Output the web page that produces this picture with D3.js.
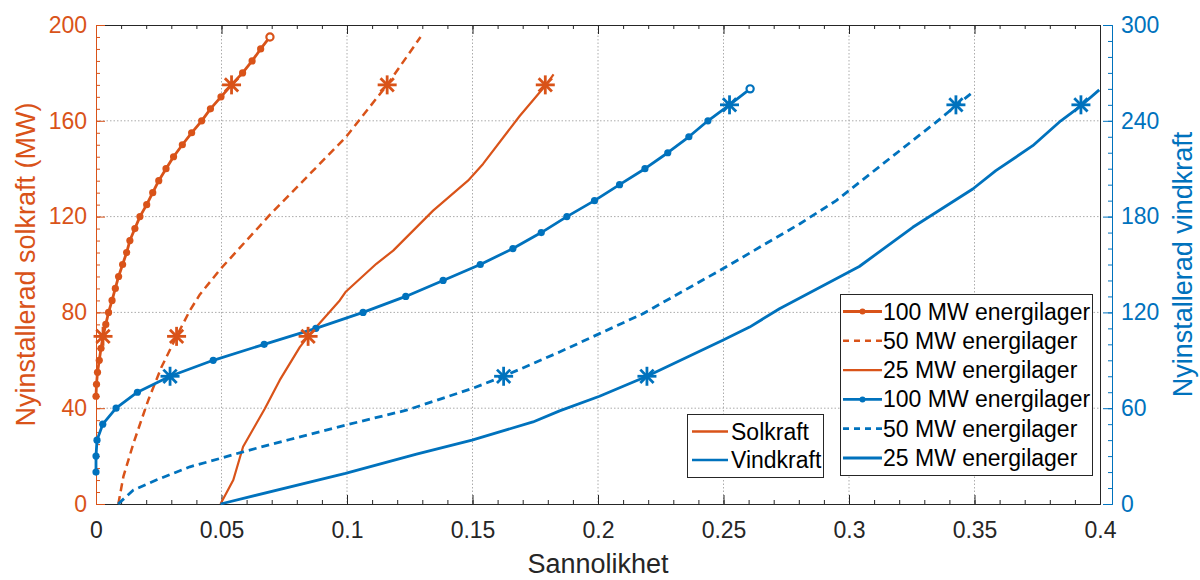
<!DOCTYPE html>
<html>
<head>
<meta charset="utf-8">
<script src="https://cdn.jsdelivr.net/npm/d3@7"></script>
<style>
    body { margin: 0; background: #fff; }
    svg { display: block; font-family: "Liberation Sans", Arial, Helvetica, sans-serif; }
    .grid line { stroke: #acacac; stroke-width: 1; stroke-dasharray: 1.5,2; }
</style>
</head>
<body>
<svg id="chart" width="1200" height="580"></svg>
<script>
// Solkraft (left axis, MW) against Sannolikhet
const solar100P = [0, 0.0002, 0.0006, 0.0013, 0.002, 0.0028, 0.0039, 0.005, 0.0064, 0.0077, 0.009, 0.0106, 0.0122, 0.0135, 0.0155, 0.0175, 0.0202, 0.0226, 0.025, 0.0279, 0.0309, 0.0344, 0.0381, 0.0421, 0.0456, 0.0498, 0.054, 0.0584, 0.0622, 0.0656, 0.0693];
const solar100MW = [45, 50, 55, 60, 65, 70, 75, 80, 85, 90, 95, 100, 105, 110, 115, 120, 125, 130, 135, 140, 145, 150, 155, 160, 165, 170, 175, 180, 185, 190, 195];
const solar50P = [0.0089, 0.0109, 0.0149, 0.0208, 0.0261, 0.0321, 0.0374, 0.0414, 0.0495, 0.0695, 0.0994, 0.116, 0.1293];
const solar50MW = [0, 11.4, 25.3, 43.3, 57.2, 70, 80.8, 87.5, 98, 121, 153, 175, 195];
const solar25P = [0.0496, 0.0547, 0.0586, 0.0673, 0.0732, 0.0812, 0.0845, 0.0971, 0.0994, 0.1117, 0.1184, 0.1343, 0.1482, 0.1542, 0.1688, 0.179, 0.1823];
const solar25MW = [0, 10, 23.9, 39.9, 51.7, 65.5, 70, 85, 88.5, 100.3, 105.8, 122.5, 135, 142, 162, 174.6, 179.4];

// Vindkraft (right axis)
const wind100P = [0, 0, 0.0004, 0.0027, 0.008, 0.0165, 0.0295, 0.0467, 0.067, 0.0876, 0.1064, 0.1234, 0.1383, 0.1531, 0.1661, 0.1774, 0.1876, 0.1986, 0.2086, 0.2187, 0.2278, 0.2362, 0.2438, 0.2524, 0.2606];
const wind100MW = [20, 30, 40, 50, 60, 70, 80, 90, 100, 110, 120, 130, 140, 150, 160, 170, 180, 190, 200, 210, 220, 230, 240, 250, 260];
const wind50P = [0.0088, 0.0149, 0.024, 0.0374, 0.0494, 0.0586, 0.0772, 0.0994, 0.1237, 0.1498, 0.1624, 0.1847, 0.2006, 0.2179, 0.2497, 0.2803, 0.2949, 0.3134, 0.3346, 0.3426, 0.3486];
const wind50MW = [0, 8.75, 15, 23.3, 28.5, 32.7, 40.4, 49.4, 58.75, 72.3, 80, 95.2, 106.7, 119.2, 147.3, 175.4, 190, 212.9, 239, 249.4, 257];
const wind25P = [0.0496, 0.0994, 0.1277, 0.1498, 0.1741, 0.1847, 0.2006, 0.2195, 0.2497, 0.2604, 0.2723, 0.3041, 0.3254, 0.3493, 0.3585, 0.3732, 0.3844, 0.3924, 0.3997];
const wind25MW = [0, 19.2, 31.25, 40, 51.4, 58.3, 67.5, 80, 102.5, 110.8, 122.3, 148.75, 173.3, 197.3, 208.75, 224.4, 240, 249.4, 259.4];

// asterisk markers (100, 50, 25 MW storage, two per curve)
const solarStarP = [0.0028, 0.054, 0.0321, 0.116, 0.0845, 0.179];
const solarStarMW = [70, 175, 70, 175, 70, 175];
const windStarP = [0.0295, 0.2524, 0.1624, 0.3426, 0.2195, 0.3924];
const windStarMW = [80, 250, 80, 250, 80, 250];

// ticks
const xTicks = [0, 0.05, 0.1, 0.15, 0.2, 0.25, 0.3, 0.35, 0.4];
const xTickLabels = ["0", "0.05", "0.1", "0.15", "0.2", "0.25", "0.3", "0.35", "0.4"];
const leftTicks = [0, 40, 80, 120, 160, 200];
const rightTicks = [0, 60, 120, 180, 240, 300];

const legendLabels = ["100 MW energilager", "50 MW energilager", "25 MW energilager"];
const typeLabels = ["Solkraft", "Vindkraft"];

const ORANGE = "#D95319", BLUE = "#0072BD", INK = "#262626";

const svg = d3.select("#chart");
const mLeft = 96, mRight = 1100, mTop = 25, mBottom = 504;

const x = d3.scaleLinear().domain([0, 0.4]).range([mLeft, mRight]);
const yL = d3.scaleLinear().domain([0, 200]).range([mBottom, mTop]);
const yR = d3.scaleLinear().domain([0, 300]).range([mBottom, mTop]);

///////////////////////////////////////////////////////////////////////////
// Grid
///////////////////////////////////////////////////////////////////////////
let grid = svg.append("g").attr("class", "grid");
grid.selectAll("line.v")
    .data(xTicks.slice(1, -1))
    .enter().append("line")
        .attr("x1", d => x(d)).attr("x2", d => x(d))
        .attr("y1", mTop).attr("y2", mBottom);
grid.selectAll("line.h")
    .data(leftTicks.slice(1, -1))
    .enter().append("line")
        .attr("x1", mLeft).attr("x2", mRight)
        .attr("y1", d => yL(d)).attr("y2", d => yL(d));

///////////////////////////////////////////////////////////////////////////
// Axes
///////////////////////////////////////////////////////////////////////////
function styleAxis(g, color, fontSize) {
    g.selectAll("path.domain").attr("stroke", color).attr("stroke-width", 1);
    g.selectAll(".tick line").attr("stroke", color);
    g.selectAll(".tick text").attr("fill", color).style("font-size", fontSize + "px");
}

const xMinor = d3.range(0, 41).map(i => i / 100);
const lMinor = d3.range(0, 41).map(i => i * 5);
const rMinor = d3.range(0, 31).map(i => i * 10);

// minor ticks first, then major ticks with labels
svg.append("g").attr("transform", `translate(0,${mBottom})`)
    .call(d3.axisTop(x).tickValues(xMinor).tickSize(4).tickFormat(""))
    .call(g => styleAxis(g, INK, 22));
svg.append("g").attr("transform", `translate(0,${mBottom})`)
    .call(d3.axisTop(x).tickValues(xTicks).tickSize(9).tickFormat((d, i) => xTickLabels[i]))
    .call(g => styleAxis(g, INK, 23))
    .call(g => g.selectAll(".tick text").attr("y", 34).attr("dy", 0));
svg.append("g").attr("transform", `translate(0,${mTop})`)
    .call(d3.axisBottom(x).tickValues(xMinor).tickSize(4).tickFormat(""))
    .call(g => styleAxis(g, INK, 22));
svg.append("g").attr("transform", `translate(0,${mTop})`)
    .call(d3.axisBottom(x).tickValues(xTicks).tickSize(9).tickFormat(""))
    .call(g => styleAxis(g, INK, 22));

// right edge of the box
svg.append("line")
    .attr("x1", mRight + 0.5).attr("x2", mRight + 0.5)
    .attr("y1", mTop).attr("y2", mBottom)
    .attr("stroke", INK);

svg.append("g").attr("transform", `translate(${mLeft},0)`)
    .call(d3.axisRight(yL).tickValues(lMinor).tickSize(4).tickFormat(""))
    .call(g => styleAxis(g, ORANGE, 22));
svg.append("g").attr("transform", `translate(${mLeft},0)`)
    .call(d3.axisRight(yL).tickValues(leftTicks).tickSize(9))
    .call(g => styleAxis(g, ORANGE, 23))
    .call(g => g.selectAll(".tick text").attr("x", -9).attr("text-anchor", "end"));

const rightAxisX = 1112;
svg.append("g").attr("transform", `translate(${rightAxisX},0)`)
    .call(d3.axisLeft(yR).tickValues(rMinor).tickSize(4).tickFormat(""))
    .call(g => styleAxis(g, BLUE, 22));
svg.append("g").attr("transform", `translate(${rightAxisX},0)`)
    .call(d3.axisLeft(yR).tickValues(rightTicks).tickSize(9))
    .call(g => styleAxis(g, BLUE, 23))
    .call(g => g.selectAll(".tick text").attr("x", 9).attr("text-anchor", "start"));

// axis titles
svg.append("text")
    .attr("x", (mLeft + mRight) / 2).attr("y", 573)
    .attr("text-anchor", "middle")
    .style("font-size", "27px").attr("fill", INK)
    .text("Sannolikhet");
svg.append("text")
    .attr("transform", `translate(35,${(mTop + mBottom) / 2}) rotate(-90)`)
    .attr("text-anchor", "middle")
    .style("font-size", "27px").attr("fill", ORANGE)
    .text("Nyinstallerad solkraft (MW)");
svg.append("text")
    .attr("transform", `translate(1192,${(mTop + mBottom) / 2}) rotate(-90)`)
    .attr("text-anchor", "middle")
    .style("font-size", "27px").attr("fill", BLUE)
    .text("Nyinstallerad vindkraft");

///////////////////////////////////////////////////////////////////////////
// Curves
///////////////////////////////////////////////////////////////////////////
const series = [
    { p: solar100P, mw: solar100MW, y: yL, color: ORANGE, dash: null, width: 2.8, dots: true },
    { p: solar50P, mw: solar50MW, y: yL, color: ORANGE, dash: "8,5", width: 2.5, dots: false },
    { p: solar25P, mw: solar25MW, y: yL, color: ORANGE, dash: null, width: 2.2, dots: false },
    { p: wind100P, mw: wind100MW, y: yR, color: BLUE, dash: null, width: 2.8, dots: true },
    { p: wind50P, mw: wind50MW, y: yR, color: BLUE, dash: "8,5", width: 2.8, dots: false },
    { p: wind25P, mw: wind25MW, y: yR, color: BLUE, dash: null, width: 2.8, dots: false }
];

let plot = svg.append("g");

series.forEach(function(s) {
    let pts = s.p.map((d, i) => [d, s.mw[i]]);
    let line = d3.line().x(d => x(d[0])).y(d => s.y(d[1]));

    plot.append("path")
        .datum(pts)
        .attr("d", line)
        .attr("fill", "none")
        .attr("stroke", s.color)
        .attr("stroke-width", s.width)
        .attr("stroke-dasharray", s.dash)
        .attr("stroke-linejoin", "round");

    if (s.dots) {
        plot.selectAll(null)
            .data(pts)
            .enter().append("circle")
                .attr("cx", d => x(d[0]))
                .attr("cy", d => s.y(d[1]))
                .attr("r", 3.6)
                .attr("fill", (d, i) => i === pts.length - 1 ? "#fff" : s.color)
                .attr("stroke", s.color)
                .attr("stroke-width", (d, i) => i === pts.length - 1 ? 2.2 : 0);
    }
});

// asterisk marker
function star(g, cx, cy, color) {
    let r = 9.5, k = r * 0.7;
    let segs = [[-r, 0, r, 0], [0, -r, 0, r], [-k, -k, k, k], [-k, k, k, -k]];
    g.append("g")
        .attr("transform", `translate(${cx},${cy})`)
        .selectAll("line")
        .data(segs)
        .enter().append("line")
            .attr("x1", d => d[0]).attr("y1", d => d[1])
            .attr("x2", d => d[2]).attr("y2", d => d[3])
            .attr("stroke", color)
            .attr("stroke-width", 2.8);
}
solarStarP.forEach((d, i) => star(plot, x(d), yL(solarStarMW[i]), ORANGE));
windStarP.forEach((d, i) => star(plot, x(d), yR(windStarMW[i]), BLUE));

///////////////////////////////////////////////////////////////////////////
// Legends
///////////////////////////////////////////////////////////////////////////
let leg1 = svg.append("g").attr("transform", "translate(840,294)");
leg1.append("rect")
    .attr("x", 0.5).attr("y", 0.5).attr("width", 252).attr("height", 181)
    .attr("fill", "#fff").attr("stroke", INK);

const legItems = series.map((s, i) => ({ s: s, label: legendLabels[i % 3] }));
let rows = leg1.selectAll("g.row")
    .data(legItems)
    .enter().append("g")
        .attr("transform", (d, i) => `translate(0,${17.5 + i * 29.3})`);
rows.append("line")
    .attr("x1", 3).attr("x2", 42)
    .attr("stroke", d => d.s.color)
    .attr("stroke-width", d => d.s.width)
    .attr("stroke-dasharray", d => d.s.dash ? "6,5" : null);
rows.filter(d => d.s.dots).append("circle")
    .attr("cx", 22.5).attr("r", 3).attr("fill", d => d.s.color);
rows.append("text")
    .attr("x", 43).attr("dy", "0.35em")
    .style("font-size", "23px").attr("fill", "#000")
    .text(d => d.label);

let leg2 = svg.append("g").attr("transform", "translate(687,414)");
leg2.append("rect")
    .attr("x", 0.5).attr("y", 0.5).attr("width", 136).attr("height", 63)
    .attr("fill", "#fff").attr("stroke", INK);
let rows2 = leg2.selectAll("g.row")
    .data(typeLabels)
    .enter().append("g")
        .attr("transform", (d, i) => `translate(0,${17.5 + i * 28.5})`);
rows2.append("line")
    .attr("x1", 5).attr("x2", 41)
    .attr("stroke", (d, i) => i === 0 ? ORANGE : BLUE)
    .attr("stroke-width", 2.5);
rows2.append("text")
    .attr("x", 44).attr("dy", "0.35em")
    .style("font-size", "23px").attr("fill", "#000")
    .text(d => d);
</script>
</body>
</html>
